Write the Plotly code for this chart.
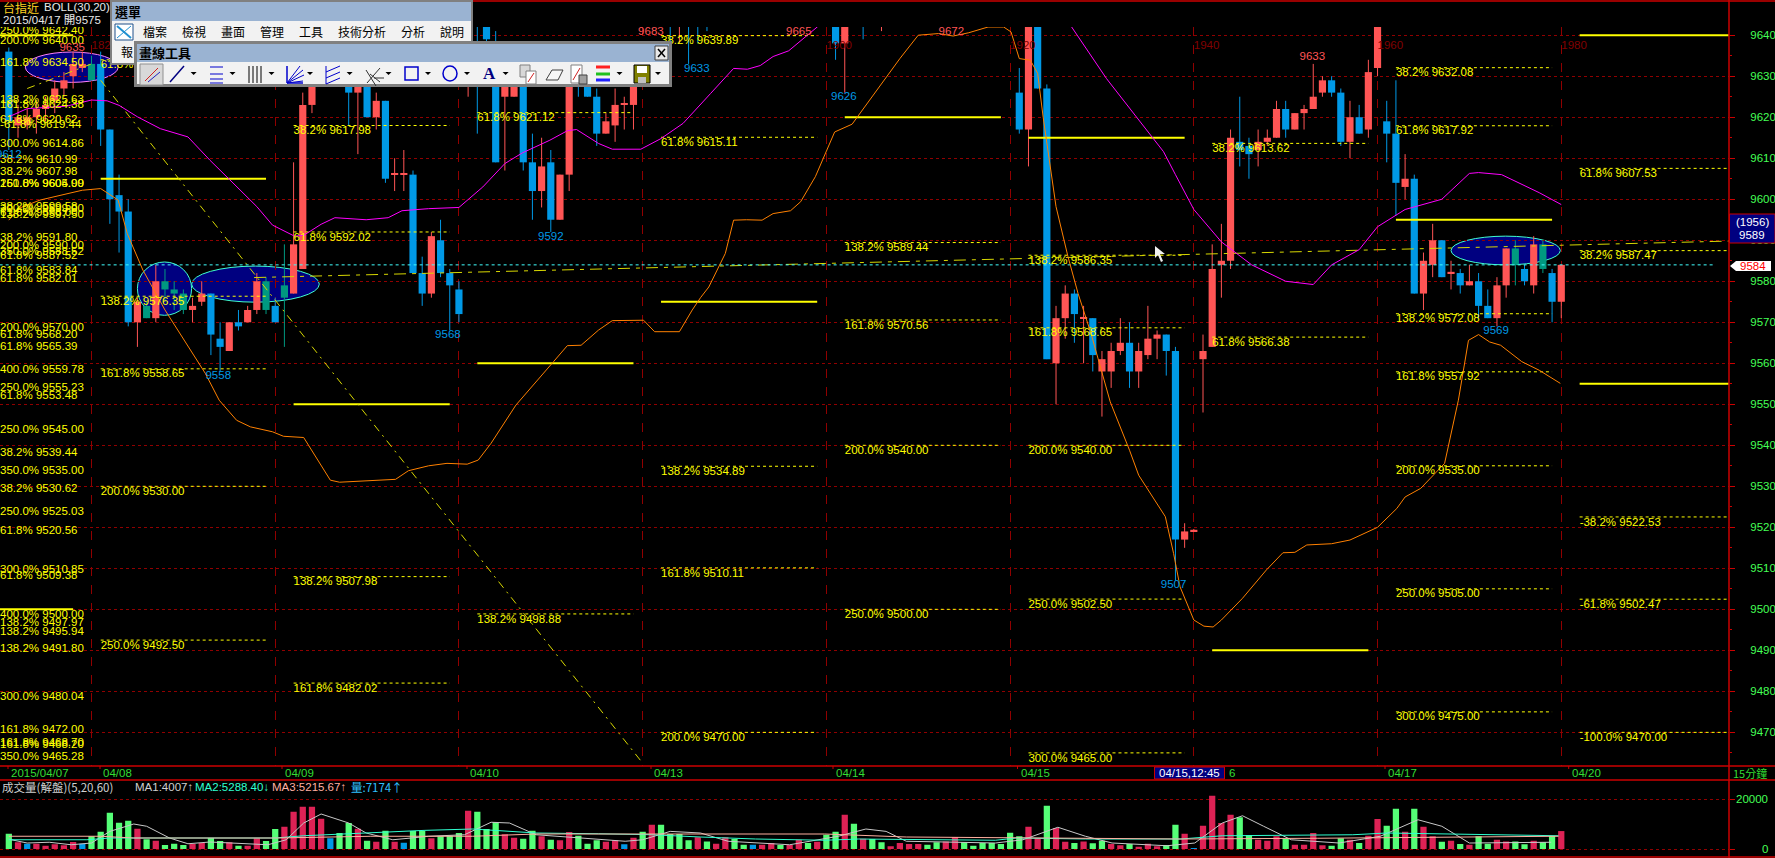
import plotly.graph_objects as go

# ---------- price data (bar number, open, high, low, close) ----------
bar_no = list(range(1811, 1981))
opens = [9636,9618,9618,9620,9622,9624,9627,9630,9632,9633,9633,9617,9601,9597,9570,9574,9571,9580,9578,9577,
         9573,9575,9577,9566,9563,9570,9570,9573,9580,9574,9579,9577,9583,9623,9632,9636,9633,9632,9626,9632,
         9620,9624,9606,9606,9606,9582,9577,9590,9582,9578,9650,9655,9642,9638,9625,9625,9633,9609,9602,9609,
         9595,9606,9633,9630,9625,9616,9618,9623,9623,9660,9668,9665,9670,9664,9672,9668,9662,9660,9650,9655,
         9660,9658,9656,9652,9655,9658,9660,9655,9652,9660,9642,9638,9650,9660,9655,9650,9660,9655,9650,9660,
         9665,9662,9660,9668,9664,9660,9666,9660,9658,9650,9626,9617,9650,9627,9560,9571,9577,9571,9571,9558,
         9558,9563,9565,9558,9562,9566,9567,9563,9517,9519,9561,9564,9584,9585,9614,9613,9612,9614,9615,9622,
         9617,9621,9622,9626,9629,9626,9614,9620,9617,9632,9619,9616,9603,9605,9577,9584,9590,9582,9582,9579,
         9580,9574,9571,9579,9588,9583,9579,9589,9582,9575]
highs = [9637,9623,9622,9624,9625,9629,9631,9636,9636,9635,9636,9617,9606,9600,9576,9575,9584,9583,9580,9578,
         9576,9580,9577,9570,9570,9573,9574,9582,9581,9576,9589,9609,9626,9635,9638,9638,9636,9634,9634,9635,
         9626,9624,9610,9612,9607,9586,9592,9595,9583,9580,9660,9662,9642,9641,9627,9636,9636,9616,9615,9612,
         9606,9636,9636,9632,9627,9621,9627,9625,9636,9683,9680,9678,9675,9670,9680,9675,9670,9665,9660,9660,
         9665,9662,9665,9665,9660,9665,9665,9660,9665,9670,9645,9650,9660,9668,9660,9660,9665,9672,9660,9665,
         9670,9668,9672,9670,9668,9665,9670,9665,9662,9655,9632,9650,9655,9628,9574,9579,9578,9574,9571,9563,
         9565,9571,9570,9565,9574,9568,9567,9564,9521,9519.6,9567,9589,9594,9617,9625,9615,9617,9617,9624,9624,
         9621,9623,9633,9630,9630,9627,9624,9623,9634,9646,9624,9629,9611,9606,9587,9594,9590,9585,9583,9584,
         9582,9578,9581,9588,9590,9584,9591,9590,9583,9584]
lows = [9612,9615,9617,9616,9619,9621,9625,9627,9631,9629,9613,9594,9587,9569,9564,9571,9570,9575,9573,9572,
        9570,9574,9562,9558,9563,9568,9570,9572,9572,9570,9564,9577,9583,9621,9630,9630,9628,9618,9611,9620,
        9617,9604,9602,9602,9582,9574,9576,9581,9568,9570,9625,9616,9638,9609,9607,9625,9607,9595,9598,9592,
        9595,9602,9625,9625,9613,9616,9614,9617,9617,9650,9655,9650,9637,9638,9633,9638,9641,9650,9650,9650,
        9650,9650,9650,9645,9650,9650,9650,9650,9645,9650,9634,9626,9645,9639,9650,9641,9650,9650,9650,9650,
        9650,9650,9650,9650,9650,9650,9650,9650,9650,9645,9616,9608,9627,9561,9550,9566,9565,9560,9558,9547,
        9554,9562,9554,9554,9561,9561,9557,9507,9515,9519,9548,9564,9576,9583,9608,9605,9608,9613,9615,9615,
        9617,9617,9622,9625,9625,9613,9610,9616,9615,9630,9609,9596,9600,9577,9573,9581,9581,9578,9577,9579,
        9571,9571,9569,9576,9579,9579,9577,9582,9570,9571]
closes = [9619,9620,9620,9622,9623,9627,9629,9633,9633,9629,9617,9600,9597,9570,9575,9571,9580,9578,9577,9573,
          9574,9577,9567,9564,9570,9569,9573,9580,9573,9570,9576,9589,9623,9632,9636,9633,9630,9626,9632,9620,
          9624,9605,9606.3,9606.3,9582,9577,9591,9582,9579,9572,9655,9642,9639,9609,9633,9633,9609,9602,9608,9595,
          9606,9633,9628,9625,9616,9619,9623,9623.3,9632,9675,9665,9670,9664,9672,9668,9662,9660,9650,9655,9660,
          9658,9656,9652,9655,9658,9660,9655,9652,9660,9665,9638,9650,9660,9655,9655,9660,9655,9650,9655,9665,
          9662,9660,9668,9664,9660,9666,9660,9658,9650,9648,9617,9650,9627,9561,9571,9577,9572,9571.3,9562,9561,
          9563,9565,9558,9563,9566,9567,9563,9517,9519,9519.4,9563,9583,9585,9615,9612,9611,9614,9615,9622,9617,
          9621,9622,9625,9629,9626,9614,9620,9616,9631,9645,9616,9604,9605,9577,9585,9590,9581,9582.3,9579,9580,
          9574,9571,9579,9588,9584,9580,9589,9583,9575,9584]
teal_bars = [1820,1826,1828,1829,1830,1839,1841,1975,1978]

# ---------- bollinger bands ----------
upper_x = [1811,1813,1817.3,1820,1821.7,1823,1825,1827.5,1830.5,1832.9,1835.3,1838,1839.7,1841.2,1842.1,1843.1,1845,1846.5,
           1849.9,1852.3,1853.8,1856.7,1860,1862.6,1865,1866.9,1869.9,1871.8,1872.8,1875.2,1876.7,1879.8,1882,1884.4,
           1885.2,1887.4,1889.9,1891.4,1892.8,1894.2,1895.9,1899,1905,1915,1922,1926.7,1930.5,1935.4,1936.7,1938,1940,
           1943,1946.3,1950,1953,1955,1958,1960,1963,1967,1970,1971,1973.5,1977.6,1980]
upper_y = [9620.1,9622.1,9622.7,9624.2,9624,9622.9,9620.1,9617.2,9615.2,9609.5,9604.2,9598.2,9593.7,9592.1,9591,9591.2,9593.9,9595.5,
           9595,9595.5,9597.2,9597.7,9598,9603,9608.7,9611.3,9614.4,9616.7,9617,9613.6,9612.2,9612.2,9614.8,9618.5,
           9620.5,9625.8,9631.9,9631.7,9632.6,9634.8,9636.2,9642,9655,9665,9655,9642,9629.4,9615.4,9611.6,9606,9597.5,
           9589.6,9584,9580,9579.2,9584,9587.7,9593.3,9597.5,9600,9606.3,9606.5,9606,9601.6,9598.7]
lower_x = [1811,1812,1814.4,1816.8,1819,1821,1822.9,1823.9,1825.6,1828,1830.5,1832.4,1833.9,1835.8,1837.3,1839.7,1840.9,1843.1,
           1846,1847,1853.1,1854.5,1856.7,1858.7,1860.9,1862.1,1863.5,1866.2,1870.3,1871.8,1873.3,1875.2,1876.7,1880.1,1881.3,
           1884,1885.4,1886.3,1887.2,1889,1889.9,1891.3,1893,1894.2,1896.1,1897.2,1898.8,1900.9,1902.8,1905.9,1908,1910,1912.2,
           1913.8,1915.5,1917.6,1919.3,1920.1,1921,1922.2,1923,1923.6,1924.5,1925,1926.3,1927.4,1928.8,1930,1930.9,1933,1934,
           1936.9,1937.8,1938.5,1940,1941.1,1942.1,1943,1945.3,1947.9,1949.7,1951,1952.3,1955,1957,1960,1962.1,1963,1964.7,
           1967.3,1968,1968.8,1969.9,1971,1972.2,1973.4,1975.7,1977.6,1979.9]
lower_y = [9594.9,9597.7,9599.8,9601,9602.2,9602.6,9599.8,9591.6,9582.7,9573,9564,9557.5,9551,9546.1,9544.5,9543.3,9542.2,9541.9,
           9531.5,9531,9531.7,9533.8,9535,9535.6,9535.4,9536.4,9540.5,9549.8,9560.4,9564.3,9564.4,9568.1,9570.4,9570.5,9567.7,
           9567.7,9573,9576,9578.6,9586.8,9594.9,9595,9594.9,9596.5,9597.2,9599.4,9605.5,9616.4,9618.3,9627.8,9634.3,9640,9640.4,
           9639.8,9640.6,9642,9642,9640.8,9634.3,9633.9,9630.7,9620,9605.5,9598.2,9586,9577,9567.3,9557.5,9550.6,9538.8,9532.7,
           9522.6,9513.6,9505.5,9497.4,9495.9,9495.7,9497.4,9502.7,9509.6,9513.8,9513.9,9515.7,9516,9516.9,9520,9524.6,9527.4,9529.5,
           9535.6,9542.9,9551,9565.6,9567,9565.2,9564.4,9560.4,9558.3,9555.1]

# ---------- drawn trend lines ----------
trend_x = [1821, 1880]
trend_y = [9629, 9462.5]
trend2_x = [1813, 1820]
trend2_y = [9627, 9633]
flat_x = [1837.7, 1998.3]
flat_y = [9580.9, 9589.8]
last_x = [1810, 1996.8]
last_y = [9584, 9584]

# ---------- thick level segments ----------
level_x0 = [1810,1810,1821,1842,1862,1882,1902,1922,1942,1962,1982,1982]
level_x1 = [1818,1818,1839,1859,1879,1899,1919,1939,1959,1979,1998.3,1998.3]
level_y = [9640,9500,9605,9550,9560,9575,9620,9615,9490,9595,9640,9555]

# ---------- fibonacci levels ----------
fib_x0 = [1821,1821,1821,1821,1821,
          1842,1842,1842,1842,
          1862,1862,
          1882,1882,1882,1882,1882,
          1902,1902,1902,1902,
          1922,1922,1922,1922,1922,1922,
          1942,1942,
          1962,1962,1962,1962,1962,1962,1962,
          1982,1982,1982,1982,1982]
fib_x1 = [1839,1839,1839,1839,1839,
          1859,1859,1859,1859,
          1879,1879,
          1899,1899,1899,1899,1899,
          1919,1919,1919,1919,
          1939,1939,1939,1939,1939,1939,
          1959,1959,
          1979,1979,1979,1979,1979,1979,1979,
          1998,1998,1998,1998,1998]
fib_pct = ["61.8%","138.2%","161.8%","200.0%","250.0%",
           "38.2%","61.8%","138.2%","161.8%",
           "61.8%","138.2%",
           "38.2%","61.8%","138.2%","161.8%","200.0%",
           "138.2%","161.8%","200.0%","250.0%",
           "61.8%","138.2%","161.8%","200.0%","250.0%","300.0%",
           "38.2%","61.8%",
           "38.2%","61.8%","138.2%","161.8%","200.0%","250.0%","300.0%",
           "61.8%","38.2%","-38.2%","-61.8%","-100.0%"]
fib_price = [9634.00,9576.35,9558.65,9530.00,9492.50,
             9617.98,9592.02,9507.98,9482.02,
             9621.12,9498.88,
             9639.89,9615.11,9534.89,9510.11,9470.00,
             9589.44,9570.56,9540.00,9500.00,
             9644.15,9586.35,9568.65,9540.00,9502.50,9465.00,
             9613.62,9566.38,
             9632.08,9617.92,9572.08,9557.92,9535.00,9505.00,9475.00,
             9607.53,9587.47,9522.53,9502.47,9470.00]

# labels stacked at the left edge
left_pct = ["250.0%","200.0%","161.8%","138.2%","161.8%","61.8%","-61.8%","300.0%","38.2%","38.2%","250.0%","161.8%",
            "38.2%","300.0%","61.8%","138.2%","38.2%","200.0%","350.0%","61.8%","61.8%","61.8%","200.0%","61.8%","61.8%",
            "400.0%","250.0%","61.8%","250.0%","38.2%","350.0%","38.2%","250.0%","61.8%","300.0%","61.8%","400.0%",
            "138.2%","138.2%","138.2%","300.0%","161.8%","161.8%","161.8%","350.0%"]
left_price = [9642.40,9640.00,9634.50,9625.63,9624.38,9620.62,9619.44,9614.86,9610.99,9607.98,9605.00,9604.99,
              9599.58,9599.00,9598.00,9597.50,9591.80,9590.00,9588.52,9587.52,9583.84,9582.01,9570.00,9568.20,9565.39,
              9559.78,9555.23,9553.48,9545.00,9539.44,9535.00,9530.62,9525.03,9520.56,9510.85,9509.38,9500.00,
              9497.97,9495.94,9491.80,9480.04,9472.00,9468.70,9468.20,9465.28]

# ---------- high / low marks ----------
peak_text = ["9635","9633","9683","9665","9672"]
peak_x = [1817.9,1952.9,1880.9,1897,1913.6]
peak_y = [9636.8,9634.6,9640.8,9640.8,9640.8]
trough_text = ["9612","9558","9568","9592","9633","9626","9507","9569"]
trough_x = [1811,1833.8,1858.8,1870,1885.9,1901.9,1937.8,1972.9]
trough_y = [9610.7,9556.9,9566.9,9590.7,9631.7,9624.8,9505.9,9567.8]

# ---------- ellipses (x0, x1, y0, y1) ----------
ell_x0 = [1812.8,1825,1830.9,1968]
ell_x1 = [1822.9,1830.9,1844.8,1979.9]
ell_y0 = [9628.5,9571.7,9574.9,9584]
ell_y1 = [9635.9,9584.7,9583.7,9591]
ell_line = ["#ff80ff","#40ffd0","#40ffd0","#40ffd0"]

# ---------- volume ----------
vol = [6100,2700,2100,2100,1300,1900,1500,2800,2100,5100,6900,14500,10500,11300,8100,3900,3300,1600,2100,1600,
       2000,2400,4400,3200,2700,1300,1300,4300,3200,8000,8900,14900,16900,16900,12100,4300,6400,10400,8100,3300,
       2900,7300,2900,2500,7200,7200,4300,5100,5300,6400,15300,14900,8000,10700,5900,4500,4100,7300,5100,3700,
       3500,6800,5300,2100,3500,2900,3500,1900,4500,6900,9700,9700,6000,6000,3500,4700,3000,2100,4700,4000,
       1700,1700,1700,2400,1600,1600,3700,2400,2900,5700,6900,13700,10100,4100,4000,2700,1100,2400,2000,2000,
       1700,2700,3000,4800,2700,1300,2400,2400,2000,6500,5100,8900,4400,17300,8400,2900,2400,3000,2300,3300,
       2000,1500,2000,900,2100,1100,1600,9700,6100,300,9300,21300,10400,13700,12700,5600,3700,3300,5100,4000,
       1700,1700,6400,1500,1300,4300,3700,2400,5300,12000,9300,16100,6900,16100,8900,5100,2900,3300,2000,1700,
       5100,2100,3700,3000,3000,1900,3300,2700,5200,7174]
vol_color_code = ("GRBRRRRRBG" "GGGGRGRGGG" "RRGGRGRRGG" "RRRRRBGGRG" "RGRBGGRGGG" "RGGGRRGGRG" "RRGGGRRBRG"
                  "RGGGGRGRRG" "GBRRGRRGRG" "GRGRGGRRRR" "GGRRGGGGGG" "GRRGRRGRGG" "RRGRRRGGRB" "RRRRGGRRRG"
                  "RRRRGGRGRR" "GGRGRRGRGR" "GGRRGGRGGR")
ma5_x = [1811,1813,1815.4,1817.8,1820,1822,1824.6,1826,1828.5,1830.5,1832.9,1835.3,1839.2,1841.2,1843.1,1845,1848,1849.9,1852.8,
         1854.8,1856.7,1860.6,1863.5,1865.5,1868.4,1873.3,1878.1,1880,1883,1886.3,1889.3,1896,1901.3,1904.3,1906.5,1908.7,1918.4,
         1921.4,1925.2,1928.2,1931.1,1937.1,1940.1,1943.1,1945.3,1947.6,1950.6,1955.8,1960.3,1964.4,1967,1970,1978.9]
ma5_y = [3900,2400,2700,1700,2400,7050,10000,9100,4400,2100,2800,2400,1700,3700,10400,14000,10400,6400,3700,
         4400,5100,5700,10700,10400,5700,4400,3100,3700,7050,6400,3100,1700,5100,8000,7050,3100,2400,
         3700,8700,5100,2400,1300,2400,10400,13300,9100,3700,2400,5100,11700,9100,2400,2700]
ma20_x = [1811,1819.5,1822,1840,1843.1,1849,1856.2,1861.5,1868.4,1875.2,1881,1886.3,1892.3,1899.8,1903.5,1918.4,1920.7,1928.2,
          1938.6,1943.1,1957.3,1961,1979.7]
ma20_y = [3700,3700,4400,4400,5300,6400,7450,8000,6400,6100,5700,4800,4000,3500,4000,3500,4400,4000,
          4000,5300,5700,6400,5300]
ma60_x = [1811,1821,1824.6,1840.2,1850.4,1861.5,1868.4,1886.3,1899.8,1908.7,1927,1938.6,1953.5,1979.7]
ma60_y = [5100,5100,4400,4400,5100,5100,6000,5900,6000,4800,4300,4000,4300,5100]

# ---------- date axis ----------
date_text = ["2015/04/07","04/08","04/09","04/10","04/13","04/14","04/15","6","04/17","04/20"]
date_px = [10,102,284,469,653,835,1019.5,1228,1387,1570.7]

# ---------- colours ----------
RED, BLUE, TEAL = "#ff5555", "#0099e6", "#009980"
GRID = "#900000"
YEL = "#ffff00"
GREEN = "#44ff55"
LINE = "#cc0000"
NARROW = "Liberation Sans"
FS = 11.5
CJK = "Noto Sans CJK TC"

W, H = 1775, 858
def X(px): return px / W
def Y(py): return 1 - py / H

fig = go.Figure()

# candle bodies
def candle_color(n, o, c):
    if n in teal_bars:
        return TEAL
    return RED if c >= o else BLUE
colors = [candle_color(n, o, c) for n, o, c in zip(bar_no, opens, closes)]
fig.add_trace(go.Bar(x=bar_no, base=[min(o, c) for o, c in zip(opens, closes)],
                     y=[max(abs(c - o), 0.3) for o, c in zip(opens, closes)],
                     width=0.78, marker=dict(color=colors, line_width=0), hoverinfo="skip"))
# wicks
for col in (RED, BLUE, TEAL):
    wx, wy = [], []
    for n, h, l, c in zip(bar_no, highs, lows, colors):
        if c == col:
            wx += [n, n, None]
            wy += [l, h, None]
    fig.add_trace(go.Scatter(x=wx, y=wy, mode="lines", line=dict(color=col, width=1), hoverinfo="skip"))

# thick levels
lx, ly = [], []
for a, b, v in zip(level_x0, level_x1, level_y):
    lx += [a, b, None]
    ly += [v, v, None]
fig.add_trace(go.Scatter(x=lx, y=ly, mode="lines", line=dict(color=YEL, width=2), hoverinfo="skip"))

# fib dashes
fx, fy = [], []
for a, b, v in zip(fib_x0, fib_x1, fib_price):
    fx += [a, b, None]
    fy += [v, v, None]
fig.add_trace(go.Scatter(x=fx, y=fy, mode="lines", line=dict(color=YEL, width=1, dash="3px,3px"), hoverinfo="skip"))

# trend lines
DASHDOT = "8px,5px,2px,5px"
fig.add_trace(go.Scatter(x=trend_x, y=trend_y, mode="lines", line=dict(color="#d8d800", width=1, dash=DASHDOT), hoverinfo="skip"))
fig.add_trace(go.Scatter(x=trend2_x, y=trend2_y, mode="lines", line=dict(color="#d8d800", width=1, dash=DASHDOT), hoverinfo="skip"))
fig.add_trace(go.Scatter(x=flat_x, y=flat_y, mode="lines", line=dict(color="#d8d800", width=1, dash="12px,6px,4px,6px"), hoverinfo="skip"))
fig.add_trace(go.Scatter(x=last_x, y=last_y, mode="lines", line=dict(color="#40ffff", width=1, dash="3px,3px"), hoverinfo="skip"))

# bollinger
fig.add_trace(go.Scatter(x=upper_x, y=upper_y, mode="lines", line=dict(color="#ff00ff", width=1), hoverinfo="skip"))
fig.add_trace(go.Scatter(x=lower_x, y=lower_y, mode="lines", line=dict(color="#ff8000", width=1), hoverinfo="skip"))

# fib labels
TF = dict(family=NARROW, size=FS, color=YEL)
fig.add_trace(go.Scatter(x=fib_x0, y=fib_price, mode="text", textposition="bottom right",
                         text=[f"{p} {v:.2f}" for p, v in zip(fib_pct, fib_price)], textfont=TF, hoverinfo="skip"))
fig.add_trace(go.Scatter(x=[1810.05] * len(left_price), y=left_price, mode="text", textposition="bottom right",
                         text=[f"{p} {v:.2f}" for p, v in zip(left_pct, left_price)], textfont=TF, hoverinfo="skip"))
# bar numbers on the grid
grid_bars = [1820, 1840, 1860, 1880, 1900, 1920, 1940, 1960, 1980]
fig.add_trace(go.Scatter(x=grid_bars, y=[9637.3] * len(grid_bars), mode="text", textposition="middle right",
                         text=[str(b) for b in grid_bars], textfont=dict(family=NARROW, size=FS, color="#800000"), hoverinfo="skip"))
# peaks and troughs
fig.add_trace(go.Scatter(x=peak_x, y=peak_y, mode="text", text=peak_text, textposition="middle center",
                         textfont=dict(family=NARROW, size=FS, color=RED), hoverinfo="skip"))
fig.add_trace(go.Scatter(x=trough_x, y=trough_y, mode="text", text=trough_text, textposition="middle center",
                         textfont=dict(family=NARROW, size=FS, color=BLUE), hoverinfo="skip"))

# volume
VC = {"G": "#55ff77", "R": "#dd2255", "B": "#0099e6"}
fig.add_trace(go.Bar(x=bar_no, y=vol, width=0.68, xaxis="x2", yaxis="y2",
                     marker=dict(color=[VC[k] for k in vol_color_code], line_width=0), hoverinfo="skip"))
fig.add_trace(go.Scatter(x=ma5_x, y=ma5_y, mode="lines", xaxis="x2", yaxis="y2", line=dict(color="#c8c8c8", width=1), hoverinfo="skip"))
fig.add_trace(go.Scatter(x=ma20_x, y=ma20_y, mode="lines", xaxis="x2", yaxis="y2", line=dict(color="#30ffd0", width=1), hoverinfo="skip"))
fig.add_trace(go.Scatter(x=ma60_x, y=ma60_y, mode="lines", xaxis="x2", yaxis="y2", line=dict(color="#ffb0a0", width=1), hoverinfo="skip"))

shapes, annos = [], []
def rect(x0, y0, x1, y1, fill, line=None, lw=1, layer="above"):
    shapes.append(dict(type="rect", xref="paper", yref="paper", x0=X(x0), x1=X(x1), y0=Y(y1), y1=Y(y0),
                       fillcolor=fill, line=dict(color=line or fill, width=lw if line else 0), layer=layer))
def seg(x0, y0, x1, y1, color, lw=1):
    shapes.append(dict(type="line", xref="paper", yref="paper", x0=X(x0), x1=X(x1), y0=Y(y0), y1=Y(y1),
                       line=dict(color=color, width=lw)))
def poly(pts, fill, line=None):
    p = "M" + " L".join(f"{X(a):.5f},{Y(b):.5f}" for a, b in pts) + " Z"
    shapes.append(dict(type="path", xref="paper", yref="paper", path=p, fillcolor=fill,
                       line=dict(color=line or fill, width=1 if line else 0)))
def circ(x0, y0, x1, y1, line):
    shapes.append(dict(type="circle", xref="paper", yref="paper", x0=X(x0), x1=X(x1), y0=Y(y1), y1=Y(y0),
                       line=dict(color=line, width=1.5)))
def text(px, py, s, color, size=12, family=CJK, anchor="left", bold=False):
    annos.append(dict(xref="paper", yref="paper", x=X(px), y=Y(py), text=f"<b>{s}</b>" if bold else s, showarrow=False,
                      xanchor=anchor, yanchor="middle", font=dict(family=family, size=size, color=color), borderpad=0))

# ellipses under the candles
for a, b, c, d, l in zip(ell_x0, ell_x1, ell_y0, ell_y1, ell_line):
    shapes.append(dict(type="circle", xref="x", yref="y", x0=a, x1=b, y0=c, y1=d, fillcolor="#000080",
                       line=dict(color=l, width=1), layer="below"))

# frame lines
seg(0, 766, 1775, 766, LINE, 1.5)
seg(0, 780, 1775, 780, LINE, 1.5)
seg(0, 857, 1775, 857, LINE, 1.5)
seg(0, 1, 1775, 1, LINE, 1.5)
seg(1729, 0, 1729, 858, LINE, 1.5)
for p in date_px[:7] + date_px[8:]:
    seg(p - 2, 766, p - 2, 769, LINE, 1)

# header
text(2, 7, "台指近", "#ffd020", 12)
text(43, 7, "BOLL(30,20)", "#e8e8e8", FS, NARROW)
text(2, 20, "2015/04/17 開9575", "#e8e8e8", FS, NARROW + ", " + CJK)

# date bar
for s, p in zip(date_text, date_px):
    text(p, 773, s, "#33dd33", FS, NARROW)
rect(1154.5, 767, 1224.5, 779, "#000080", LINE)
text(1189.5, 773, "04/15,12:45", "#ffffff", FS, NARROW, "center")
text(1732, 773, "15分鐘", "#33dd33", 11)

# volume header
text(1, 787, "成交量(解盤)(5,20,60)", "#d0d0d0", 11.5)
text(134, 787, "MA1:4007↑", "#d0d0d0", FS, NARROW)
text(194, 787, "MA2:5288.40↓", "#30ffd0", FS, NARROW)
text(271, 787, "MA3:5215.67↑", "#ffb0a0", FS, NARROW)
text(350, 787, "量:7174↑", "#30c0ff", FS, CJK)
text(1769, 799, "20000", GREEN, FS, NARROW, "right")
text(1769, 849, "0", GREEN, FS, NARROW, "right")

# right side boxes
rect(1729.5, 214, 1775, 243, "#000080", LINE)
text(1752, 222, "(1956)", "#ffffff", FS, NARROW, "center")
text(1752, 235, "9589", "#ffffff", FS, NARROW, "center")
poly([(1730, 266), (1736, 261), (1771, 261), (1771, 271), (1736, 271)], "#ffffff")
text(1753, 266, "9584", "#ff0000", FS, NARROW, "center")

# mouse pointer
poly([(1155, 246), (1155, 258), (1158, 255), (1161, 262), (1163, 261), (1160, 254), (1165, 254)], "#f0f0f0")

# menu window
PANEL, TITLE, EDGE = "#f2f2f2", "#9ab3d2", "#808080"
rect(110, 0, 473, 65, EDGE)
rect(112, 2, 471, 63, PANEL)
rect(112, 2, 471, 21, TITLE)
text(114, 12, "選單", "#000000", 13, bold=True)
rect(115, 24, 133, 40, "#ffffff", "#20508a")
seg(117, 26, 131, 38, "#2090d0", 2)
seg(117, 38, 131, 26, "#2090d0", 1)
menu_text = ["檔案", "檢視", "畫面", "管理", "工具", "技術分析", "分析", "說明"]
menu_px = [142, 181, 220, 259, 298, 337, 400, 439]
for s, p in zip(menu_text, menu_px):
    text(p, 31, s, "#000000", 12)
text(120, 52, "報", "#000000", 12)

# drawing toolbar
rect(134, 41, 672, 87, EDGE)
rect(137, 44, 669, 84, PANEL)
rect(137, 44, 669, 62, TITLE)
text(138, 53, "畫線工具", "#000000", 13, bold=True)
rect(655, 46, 668, 60, "#e8e8e8", "#404040")
seg(658, 49, 665, 57, "#000000", 1.5)
seg(665, 49, 658, 57, "#000000", 1.5)
rect(140, 64, 163, 85, "#d8d8d8", "#909090")
seg(145, 81, 158, 68, "#d02020", 1)
seg(148, 82, 160, 72, "#2020c0", 1)
ICON = "#0000cc"
seg(170, 82, 184, 66, "#000080", 1.5)
for yy in (67, 74, 79, 83):
    seg(210, yy, 223, yy, ICON, 1)
for xx in (249, 253, 257, 261):
    seg(xx, 66, xx, 83, "#000000", 1)
for a, b in ((300, 66), (303, 70), (304, 75), (303, 81)):
    seg(287, 83, a, b, ICON, 1)
seg(287, 66, 287, 83, ICON, 1.5)
seg(287, 83, 303, 83, ICON, 1.5)
seg(326, 66, 326, 84, ICON, 1)
seg(326, 72, 340, 66, ICON, 1)
seg(326, 78, 340, 72, ICON, 1)
seg(326, 84, 340, 78, ICON, 1)
for d in (0, 4, 8):
    seg(366 + d, 70 + d, 376 + d, 82 - d + 4, "#303030", 1)
seg(367, 83, 380, 68, "#303030", 1)
rect(405, 67, 418, 80, PANEL, ICON, 1.5)
circ(443, 66, 457, 81, ICON)
text(482, 73, "A", "#000080", 17, "Liberation Serif", bold=True)
rect(520, 65, 530, 77, "#d8d8d8", "#808080")
rect(526, 71, 536, 84, "#ffffff", "#808080")
seg(528, 82, 534, 73, "#d02020", 1)
poly([(546, 80), (552, 70), (563, 70), (558, 80)], "#f8f8f8", "#404040")
rect(571, 65, 582, 83, "#ffffff", "#808080")
seg(573, 80, 580, 68, "#d02020", 1)
rect(579, 75, 587, 84, "#a0a0a0", "#404040")
for yy, c in ((67, "#ff2020"), (74, "#20c020"), (80, "#2020ff")):
    seg(596, yy, 610, yy, c, 3)
rect(634, 65, 650, 83, "#808000", "#000000")
rect(637, 66, 647, 73, "#ffffff")
rect(638, 77, 646, 83, "#c0c0c0")
tri_px = [193.6, 232.5, 271.5, 310, 349.6, 388.5, 428, 467, 505.6, 619.5, 658]
for t in tri_px:
    poly([(t - 3, 72), (t + 3, 72), (t, 75)], "#000000")

fig.update_layout(
    width=W, height=H, margin=dict(l=0, r=0, t=0, b=0), paper_bgcolor="#000000", plot_bgcolor="#000000",
    showlegend=False, barmode="overlay", shapes=shapes, annotations=annos, hovermode=False,
    xaxis=dict(domain=[0, 1729 / W], range=[1810.04, 1998.26], tickvals=grid_bars, showticklabels=False, ticks="",
               showgrid=True, gridcolor=GRID, griddash="dash", gridwidth=1, zeroline=False, showline=False, anchor="y"),
    yaxis=dict(domain=[1 - 766 / H, 1 - 27 / H], range=[9461.8, 9642], side="right", anchor="x", dtick=10, tick0=9460,
               showgrid=True, gridcolor=GRID, griddash="dot", gridwidth=1, zeroline=False, showline=False,
               ticks="outside", ticklen=5, tickcolor=LINE, ticklabelstandoff=13,
               tickfont=dict(family=NARROW, size=FS, color=GREEN),
               minor=dict(dtick=5, tick0=9460, ticks="outside", ticklen=2, tickcolor=LINE, showgrid=False)),
    xaxis2=dict(domain=[0, 1729 / W], range=[1810.04, 1998.26], showticklabels=False, ticks="", showgrid=False,
                zeroline=False, showline=False, anchor="y2"),
    yaxis2=dict(domain=[1 - 857 / H, 1 - 781 / H], range=[-3200, 27200], side="right", anchor="x2", tickvals=[0, 20000],
                showticklabels=False, ticks="outside", ticklen=5, tickcolor=LINE, showgrid=True, gridcolor=GRID,
                griddash="dot", zeroline=False, showline=False),
)

fig.write_html("out.html", config={"displayModeBar": False},
               post_script="document.body.style.margin='0';document.body.style.background='#000';")
